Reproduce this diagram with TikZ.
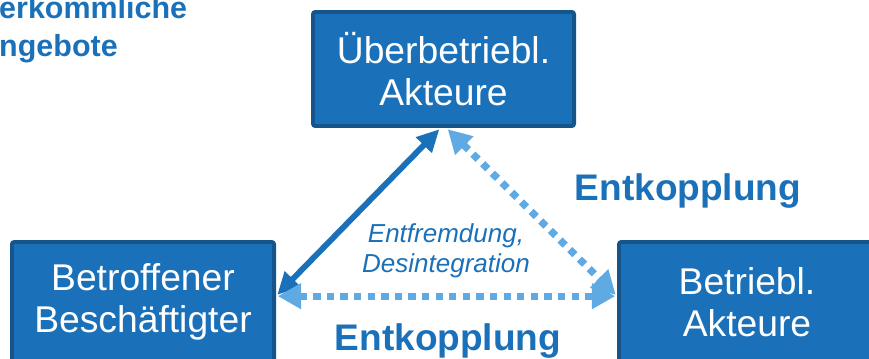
\documentclass[tikz,border=0pt]{standalone}
\usepackage{fontspec}
\setmainfont{Liberation Sans}
\usepackage{tikz}
\usetikzlibrary{arrows.meta}
\usepackage{xcolor}
\definecolor{boxblue}{RGB}{27,113,185}
\definecolor{edgeblue}{RGB}{21,85,140}
\definecolor{lightblue}{RGB}{96,170,228}

\begin{document}
\begin{tikzpicture}[
    x=0.03cm, y=-0.03cm,
    akteur/.style={draw=edgeblue, line width=3.4pt, fill=boxblue, rounded corners=2pt,
                   text=white, align=center, inner sep=0pt,
                   font=\fontsize{31.8}{35.9}\selectfont},
    lbl/.style={text=boxblue, inner sep=0pt, font=\fontsize{31.6}{36}\selectfont\bfseries},
    note/.style={text=boxblue, align=center, inner sep=0pt,
                 font=\fontsize{22.2}{25.6}\selectfont\itshape},
    arr/.style={{Triangle[length=19pt,width=18pt]}-{Triangle[length=19pt,width=18pt]},
                line width=5pt, boxblue, shorten <=1.5pt, shorten >=1.5pt},
    dotarr/.style={{Triangle[length=20pt,width=21pt]}-{Triangle[length=20pt,width=21pt]},
                   line width=6.2pt, lightblue, dash pattern=on 6.2pt off 5.4pt,
                   shorten <=1.5pt, shorten >=1.5pt}
]
\path[use as bounding box, clip] (0,0) rectangle (869,358);

\node[lbl, font=\fontsize{26}{31.6}\selectfont\bfseries, align=left, anchor=base west]
    (angebote) at (-1,56) {erkommliche\\ngebote};

\node[akteur, minimum width=7.83cm, minimum height=3.42cm] (ueber) at (443.5,69) {Überbetriebl.\\Akteure};
\node[akteur, minimum width=7.86cm, minimum height=3.6cm] (betroffen) at (143,302) {Betroffener\\Beschäftigter};
\node[akteur, minimum width=7.68cm, minimum height=3.6cm] (betrieb) at (747,302) {Betriebl.\\Akteure};

\node[lbl, anchor=base] (entk1) at (688,200) {Entkopplung};
\node[lbl, anchor=base] (entk2) at (448,350) {Entkopplung};
\node[note, anchor=base] (fremd) at (446,272) {Entfremdung,\\Desintegration};

\draw[arr] ([xshift=-2.5pt]ueber.south) -- ([yshift=5pt]betroffen.east);
\draw[dotarr] ([xshift=2.5pt]ueber.south) -- ([yshift=5pt]betrieb.west);
\draw[dotarr] ([yshift=5pt]betroffen.east) -- ([yshift=5pt]betrieb.west);

\end{tikzpicture}
\end{document}
